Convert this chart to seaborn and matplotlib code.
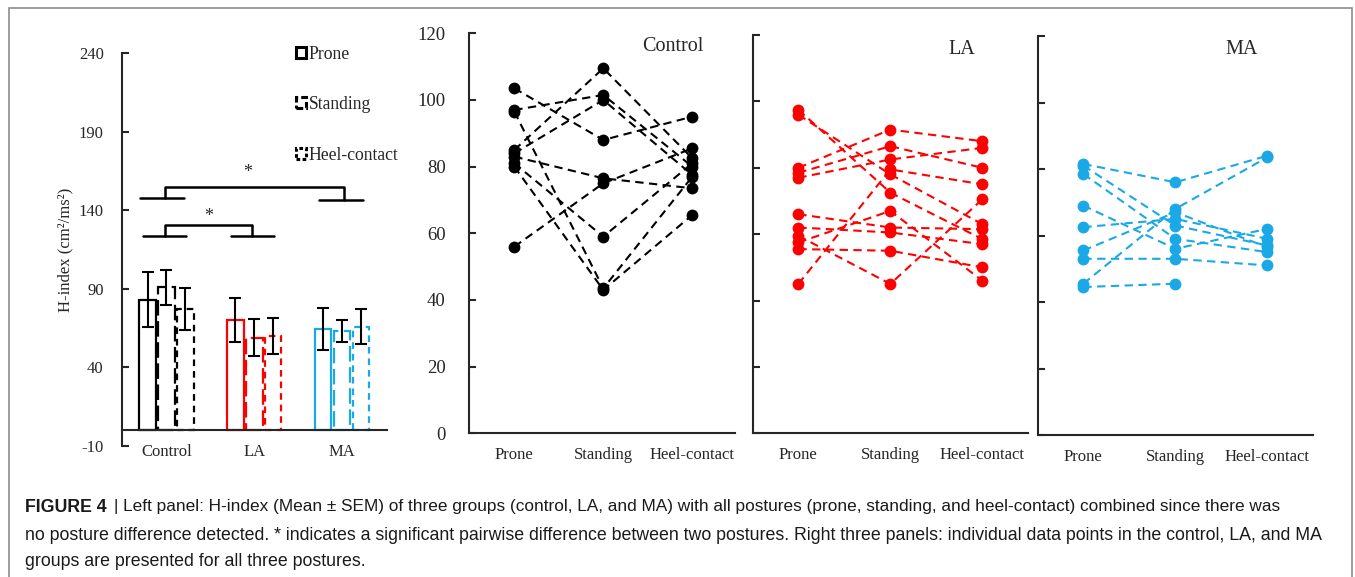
import numpy as np
import pandas as pd
import matplotlib
matplotlib.use("Agg")
import matplotlib.pyplot as plt
from matplotlib.patches import Patch, Rectangle
import seaborn as sns

groups = ["Control", "LA", "MA"]
postures = ["Prone", "Standing", "Heel-contact"]

# left panel: mean +- SEM per group, order prone / standing / heel-contact
control_mean = [83, 91, 77]
control_sem = [17.5, 11, 13.5]
la_mean = [70, 59, 60]
la_sem = [14, 11.5, 11.7]
ma_mean = [64.5, 63, 66]
ma_sem = [13.5, 7, 11]

# right panels: individual subjects (same index = same subject)
control_prone = [103.5, 97, 96.5, 85, 84, 83, 81, 80, 56]
control_standing = [88, 101.5, 43.5, 109.5, 100, 76.5, 59, 43, 75]
control_heel = [95, 80, 77, 82.5, 77.5, 73.5, 81, 65.5, 85.5]

la_prone = [97.5, 96, 80, 78.5, 77, 66, 62, 59.5, 57.5, 55.5, 45]
la_standing = [72.5, 78, 91.5, 86.5, 82.5, 62, 60.5, 45, 67, 55, 79.5]
la_heel = [58.5, 63, 88, 80, 86, 61.5, 57, 70.5, 46, 50, 75]

ma_prone = [81.5, 81, 78.5, 69, 62.5, 55.5, 53, 45.5, 44.5]
ma_standing = [76, 63, 59, 56, 65, 67, 53, 68, 45.5]
ma_heel = [84, 57, 55, 62, 59, 56.5, 51, 83.5, np.nan]

group_colors = ["black", "#ff0000", "#1ba8e6"]
bar_styles = ["-", (0, (7, 2.5)), (0, (3, 2.2))]

sns.set_style("ticks")
plt.rcParams["font.family"] = ["Liberation Serif", "DejaVu Serif"]
plt.rcParams["axes.linewidth"] = 1.5
plt.rcParams["axes.unicode_minus"] = False

fig = plt.figure(figsize=(13.55, 5.77), dpi=100)
W, H = 1355, 577


def px_axes(x0, x1, ytop, ybot):
    return fig.add_axes([x0 / W, 1 - ybot / H, (x1 - x0) / W, (ybot - ytop) / H])


# ---------------- left panel: bars ----------------
ax0 = px_axes(121.7, 386.7, 53, 446)
bar_df = pd.DataFrame({
    "group": np.repeat(groups, 3),
    "posture": postures * 3,
    "mean": control_mean + la_mean + ma_mean,
    "sem": control_sem + la_sem + ma_sem,
})
sns.barplot(data=bar_df, x="group", y="mean", hue="posture", order=groups,
            hue_order=postures, width=0.645, gap=0.12, fill=False, errorbar=None,
            palette=["k", "k", "k"], legend=False, ax=ax0)

slot = 0.645 / 3
for bar in list(ax0.patches):
    xc = bar.get_x() + bar.get_width() / 2
    j = int(round(xc))
    i = int(round((xc - j) / slot)) + 1
    bar.set_edgecolor(group_colors[j])
    bar.set_linestyle(bar_styles[i])
    bar.set_linewidth(1.6)
    row = bar_df[(bar_df.group == groups[j]) & (bar_df.posture == postures[i])]
    ax0.errorbar(xc, row["mean"].iloc[0], yerr=row["sem"].iloc[0], color="black",
                 lw=1.5, capsize=4, capthick=1.5, zorder=5)

ax0.set_xlim(-0.51, 2.51)
ax0.set_ylim(-10, 240)
ax0.set_yticks(np.arange(-10, 241, 50))
ax0.spines["bottom"].set_position(("data", 0))
ax0.spines[["top", "right"]].set_visible(False)
ax0.tick_params(axis="y", direction="in", length=5, width=1.5, labelsize=12, pad=13)
ax0.tick_params(axis="x", length=0, labelsize=12, pad=10)
ax0.set_xlabel("")
ax0.set_ylabel("H-index (cm²/ms²)", fontsize=12, labelpad=4)

# significance brackets
bk = dict(color="black", lw=1.8, clip_on=False)
ax0.plot([-0.3, 0.2], [147.9, 147.9], **bk)
ax0.plot([-0.02, -0.02, 2.02, 2.02], [147.9, 154.9, 154.9, 146.8], **bk)
ax0.plot([1.74, 2.24], [146.8, 146.8], **bk)
ax0.text(0.92, 164, "*", ha="center", va="center", fontsize=13)
ax0.plot([-0.27, 0.22], [123.4, 123.4], **bk)
ax0.plot([-0.02, -0.02, 0.98, 0.98], [123.4, 130.4, 130.4, 123.4], **bk)
ax0.plot([0.74, 1.23], [123.4, 123.4], **bk)
ax0.text(0.48, 136, "*", ha="center", va="center", fontsize=13)

handles = [Patch(facecolor="white", edgecolor="black", linestyle=s, linewidth=2.2)
           for s in ["-", (0, (2.2, 1)), (0, (1.2, 0.8))]]
ax0.legend(handles, postures, loc="upper left", bbox_to_anchor=(0.63, 1.037),
           frameon=False, handlelength=0.6, handleheight=0.6, handletextpad=0.15,
           labelspacing=1.9, fontsize=12.7, borderaxespad=0)

# ---------------- right panels: individual points ----------------
panel_data = [
    ("Control", control_prone, control_standing, control_heel, group_colors[0],
     (469.3, 735, 33.3, 433.3), (-0.506, 2.48), (0.765, 0.966)),
    ("LA", la_prone, la_standing, la_heel, group_colors[1],
     (753.3, 1028.3, 35, 433.3), (-0.49, 2.5), (0.758, 0.964)),
    ("MA", ma_prone, ma_standing, ma_heel, group_colors[2],
     (1038.3, 1313.3, 36, 435), (-0.49, 2.5), (0.74, 0.965)),
]

for k, (name, pr, st, he, col, box, xl, tpos) in enumerate(panel_data):
    ax = px_axes(*box)
    n = len(pr)
    long_df = pd.DataFrame({
        "subject": np.tile(np.arange(n), 3),
        "pos": np.repeat([0, 1, 2], n),
        "value": list(pr) + list(st) + list(he),
    }).dropna()
    sns.lineplot(data=long_df, x="pos", y="value", units="subject", estimator=None,
                 color=col, marker="o", markersize=8.5, markeredgewidth=0,
                 linestyle=(0, (4, 2.6)), linewidth=1.5, ax=ax)
    ax.set_xlim(*xl)
    ax.set_ylim(0, 120)
    ax.set_yticks(np.arange(0, 121, 20))
    ax.set_xticks([0, 1, 2])
    ax.set_xticklabels(postures)
    ax.set_xlabel("")
    ax.set_ylabel("")
    ax.spines[["top", "right"]].set_visible(False)
    ax.tick_params(axis="y", direction="in", length=5, width=1.5, labelsize=13.5, pad=17)
    ax.tick_params(axis="x", length=0, labelsize=12, pad=10)
    if k > 0:
        ax.tick_params(axis="y", labelleft=False)
    ax.text(tpos[0], tpos[1], name, transform=ax.transAxes, ha="center", va="center",
            fontsize=14.5)

# ---------------- caption and frame ----------------
fig.patches.append(Rectangle((9 / W, -0.05), (1352 - 9) / W, (577 - 8) / H + 0.05,
                             transform=fig.transFigure, fill=False,
                             edgecolor="#8c8c8c", lw=1.2))

cap_font = dict(family=["Liberation Sans", "DejaVu Sans"], va="center", color="#1a1a1a")
t1 = fig.text(25 / W, 1 - 507 / H, "FIGURE 4", fontweight="bold", fontsize=12.8,
              **cap_font)
fig.canvas.draw()
bb = t1.get_window_extent()
fig.text(bb.x1 / W + 7 / W, 1 - 507 / H,
         "| Left panel: H-index (Mean ± SEM) of three groups (control, LA, and MA) with all "
         "postures (prone, standing, and heel-contact) combined since there was",
         fontsize=12.45, **cap_font)
fig.text(25 / W, 1 - 535 / H,
         "no posture difference detected. * indicates a significant pairwise difference between "
         "two postures. Right three panels: individual data points in the control, LA, and MA",
         fontsize=12.8, **cap_font)
fig.text(25 / W, 1 - 561 / H, "groups are presented for all three postures.", fontsize=12.8,
         **cap_font)

fig.savefig("out.png", dpi=100)
